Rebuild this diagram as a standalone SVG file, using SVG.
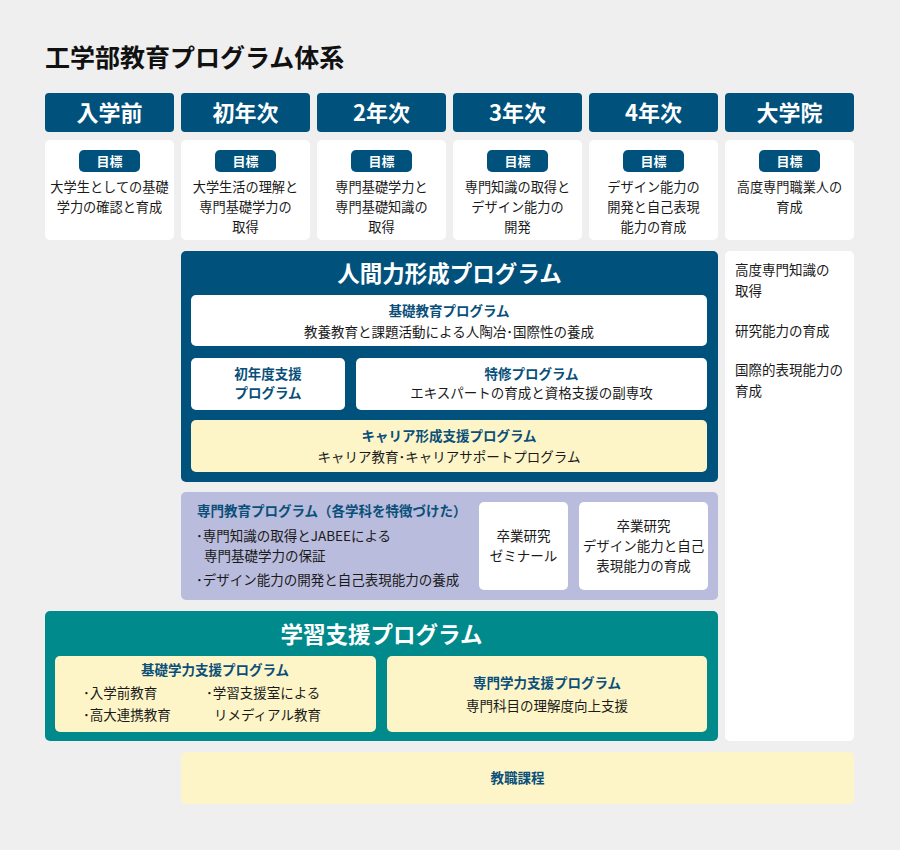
<svg xmlns="http://www.w3.org/2000/svg" width="900" height="850" viewBox="0 0 900 850">
<style>
text{font-family:"Noto Sans CJK JP","Noto Sans",sans-serif;fill:#1a1a1a}
.hd{fill:#00517c}
.hdt{fill:#fff;font-size:22px;font-weight:bold;text-anchor:middle}
.card{fill:#fff}
.pill{fill:#00517c}
.pt{fill:#fff;font-size:13px;font-weight:bold;text-anchor:middle}
.gt{font-size:13.2px;text-anchor:middle}
.big{fill:#fff;font-size:22.5px;font-weight:bold;text-anchor:middle}
.sub{fill:#0a4f7a;font-size:13.5px;font-weight:bold;text-anchor:middle}
.body{font-size:13.5px;text-anchor:middle}
.lt{font-size:13.5px}
.yel{fill:#fdf5c7}
</style>
<rect width="900" height="850" fill="#efefef"/>
<text x="45" y="67" style="font-size:25px;font-weight:bold;fill:#111">工学部教育プログラム体系</text>

<g id="year-headers">
<g id="h-pre"><rect class="hd" x="45" y="93" width="129" height="39" rx="4"/><text class="hdt" x="109.5" y="120.5">入学前</text></g>
<g id="h-y1"><rect class="hd" x="181" y="93" width="129" height="39" rx="4"/><text class="hdt" x="245.5" y="120.5">初年次</text></g>
<g id="h-y2"><rect class="hd" x="317" y="93" width="129" height="39" rx="4"/><text class="hdt" x="381.5" y="120.5">2年次</text></g>
<g id="h-y3"><rect class="hd" x="453" y="93" width="129" height="39" rx="4"/><text class="hdt" x="517.5" y="120.5">3年次</text></g>
<g id="h-y4"><rect class="hd" x="589" y="93" width="129" height="39" rx="4"/><text class="hdt" x="653.5" y="120.5">4年次</text></g>
<g id="h-grad"><rect class="hd" x="725" y="93" width="129" height="39" rx="4"/><text class="hdt" x="789.5" y="120.5">大学院</text></g>
</g>

<g id="goals">
<g id="g-pre"><rect class="card" x="45" y="140" width="129" height="100" rx="5"/><rect class="pill" x="79" y="150" width="61" height="22" rx="5"/><text class="pt" x="109.5" y="166">目標</text>
<text class="gt" x="109.5" y="192">大学生としての基礎</text><text class="gt" x="109.5" y="212">学力の確認と育成</text></g>
<g id="g-y1"><rect class="card" x="181" y="140" width="129" height="100" rx="5"/><rect class="pill" x="215" y="150" width="61" height="22" rx="5"/><text class="pt" x="245.5" y="166">目標</text>
<text class="gt" x="245.5" y="192">大学生活の理解と</text><text class="gt" x="245.5" y="212">専門基礎学力の</text><text class="gt" x="245.5" y="232">取得</text></g>
<g id="g-y2"><rect class="card" x="317" y="140" width="129" height="100" rx="5"/><rect class="pill" x="351" y="150" width="61" height="22" rx="5"/><text class="pt" x="381.5" y="166">目標</text>
<text class="gt" x="381.5" y="192">専門基礎学力と</text><text class="gt" x="381.5" y="212">専門基礎知識の</text><text class="gt" x="381.5" y="232">取得</text></g>
<g id="g-y3"><rect class="card" x="453" y="140" width="129" height="100" rx="5"/><rect class="pill" x="487" y="150" width="61" height="22" rx="5"/><text class="pt" x="517.5" y="166">目標</text>
<text class="gt" x="517.5" y="192">専門知識の取得と</text><text class="gt" x="517.5" y="212">デザイン能力の</text><text class="gt" x="517.5" y="232">開発</text></g>
<g id="g-y4"><rect class="card" x="589" y="140" width="129" height="100" rx="5"/><rect class="pill" x="623" y="150" width="61" height="22" rx="5"/><text class="pt" x="653.5" y="166">目標</text>
<text class="gt" x="653.5" y="192">デザイン能力の</text><text class="gt" x="653.5" y="212">開発と自己表現</text><text class="gt" x="653.5" y="232">能力の育成</text></g>
<g id="g-grad"><rect class="card" x="725" y="140" width="129" height="100" rx="5"/><rect class="pill" x="759" y="150" width="61" height="22" rx="5"/><text class="pt" x="789.5" y="166">目標</text>
<text class="gt" x="789.5" y="192">高度専門職業人の</text><text class="gt" x="789.5" y="212">育成</text></g>
</g>

<g id="grad-column"><rect class="card" x="725" y="251" width="129" height="490" rx="5"/>
<text class="lt" x="735" y="275">高度専門知識の</text><text class="lt" x="735" y="296">取得</text>
<text class="lt" x="735" y="336">研究能力の育成</text>
<text class="lt" x="735" y="375">国際的表現能力の</text><text class="lt" x="735" y="396">育成</text></g>

<g id="ningenryoku">
<rect fill="#00517c" x="181" y="251" width="537" height="231" rx="5"/>
<text class="big" x="449.5" y="282">人間力形成プログラム</text>
<g id="kiso-kyoiku"><rect class="card" x="191" y="295" width="516" height="51" rx="5"/><text class="sub" x="449" y="316">基礎教育プログラム</text><text class="body" x="449" y="337">教養教育と課題活動による人陶冶･国際性の養成</text></g>
<g id="shonendo"><rect class="card" x="191" y="358" width="154" height="52" rx="5"/><text class="sub" x="268" y="379">初年度支援</text><text class="sub" x="268" y="398">プログラム</text></g>
<g id="tokushu"><rect class="card" x="356" y="358" width="351" height="52" rx="5"/><text class="sub" x="531.5" y="379">特修プログラム</text><text class="body" x="531.5" y="398">エキスパートの育成と資格支援の副専攻</text></g>
<g id="career"><rect class="yel" x="191" y="420" width="516" height="52" rx="5"/><text class="sub" x="449" y="441">キャリア形成支援プログラム</text><text class="body" x="449" y="462">キャリア教育･キャリアサポートプログラム</text></g>
</g>

<g id="senmon">
<rect fill="#b9bcdc" x="181" y="492" width="537" height="108" rx="5"/>
<text class="sub" x="197" y="516" style="text-anchor:start">専門教育プログラム（各学科を特徴づけた）</text>
<text class="lt" x="196" y="541">･専門知識の取得とJABEEによる</text>
<text class="lt" x="204" y="561">専門基礎学力の保証</text>
<text class="lt" x="196" y="585">･デザイン能力の開発と自己表現能力の養成</text>
<g id="sotsuken-seminar"><rect class="card" x="479" y="502" width="89" height="88" rx="5"/><text class="body" x="523.5" y="541">卒業研究</text><text class="body" x="523.5" y="561">ゼミナール</text></g>
<g id="sotsuken-design"><rect class="card" x="579" y="502" width="129" height="88" rx="5"/><text class="body" x="643.5" y="531">卒業研究</text><text class="body" x="643.5" y="551">デザイン能力と自己</text><text class="body" x="643.5" y="571">表現能力の育成</text></g>
</g>

<g id="gakushu">
<rect fill="#008a8c" x="45" y="611" width="673" height="130" rx="5"/>
<text class="big" x="381.5" y="643">学習支援プログラム</text>
<g id="kiso-gakuryoku"><rect class="yel" x="55" y="656" width="321" height="76" rx="5"/>
<text class="sub" x="215" y="675">基礎学力支援プログラム</text>
<text class="lt" x="83" y="698">･入学前教育</text><text class="lt" x="83" y="720">･高大連携教育</text>
<text class="lt" x="206" y="698">･学習支援室による</text><text class="lt" x="214" y="720">リメディアル教育</text></g>
<g id="senmon-gakuryoku"><rect class="yel" x="387" y="656" width="320" height="76" rx="5"/>
<text class="sub" x="547" y="688">専門学力支援プログラム</text><text class="body" x="547" y="711">専門科目の理解度向上支援</text></g>
</g>

<g id="kyoshoku"><rect class="yel" x="181" y="752" width="673" height="52" rx="5"/><text class="sub" x="517.5" y="783">教職課程</text></g>

<g id="connectors"></g>
</svg>
